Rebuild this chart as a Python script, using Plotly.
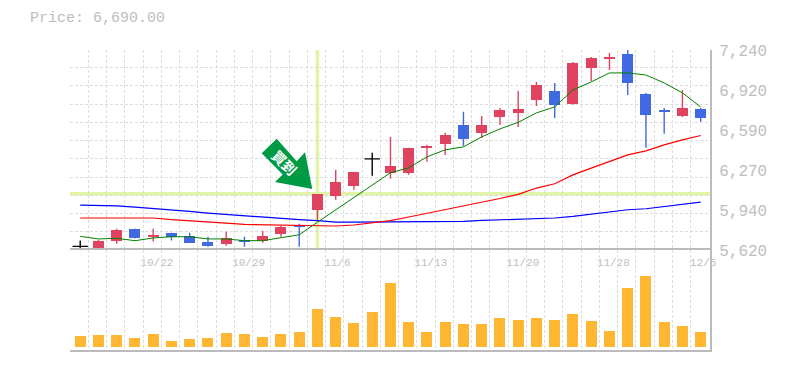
import plotly.graph_objects as go

# Daily index 0..34 is a trading session
opens  = [5651,5640,5691,5794,5729,5762,5737,5689,5673,5705,5697,5754,5826,5948,6061,6142,6361,6248,6248,6450,6483,6636,6572,6701,6734,6839,6912,6807,7098,7171,7212,6888,6758,6709,6766]
closes = [5651,5697,5786,5715,5745,5729,5681,5656,5721,5689,5737,5810,5810,6078,6175,6256,6361,6304,6450,6466,6556,6523,6636,6758,6766,6961,6799,7139,7179,7187,6977,6717,6742,6774,6690]
highs  = [5699,5705,5794,5794,5794,5762,5762,5729,5770,5729,5778,5818,5835,6078,6272,6256,6410,6539,6450,6475,6572,6742,6709,6774,6912,6985,6977,7147,7187,7220,7244,6896,6774,6920,6774]
lows   = [5618,5632,5673,5715,5691,5699,5681,5648,5656,5648,5681,5729,5648,5867,6029,6110,6223,6199,6231,6337,6393,6466,6531,6636,6620,6790,6693,6799,6993,7082,6879,6450,6564,6701,6661]
ma_short = [5732,5711,5716,5697,5719,5729,5729,5711,5711,5697,5697,5724,5745,5847,5948,6045,6146,6248,6288,6377,6434,6458,6539,6604,6657,6734,6782,6920,6985,7058,7058,7041,6977,6896,6782]
ma_mid   = [5881,5881,5881,5881,5881,5867,5856,5848,5840,5829,5826,5824,5821,5822,5816,5824,5840,5859,5889,5918,5948,5980,6010,6039,6073,6124,6159,6231,6286,6339,6393,6426,6474,6515,6550]
ma_long  = [5986,5986,5980,5970,5956,5946,5934,5921,5910,5899,5886,5873,5867,5859,5848,5848,5848,5848,5848,5848,5848,5853,5861,5865,5873,5873,5881,5894,5913,5934,5948,5956,5975,5994,6010]
volumes  = [110,120,120,90,130,60,80,90,140,130,100,130,150,380,300,240,350,640,250,150,250,230,230,290,270,290,270,330,260,160,590,710,250,210,150]

price_ticks = [7240,6920,6590,6270,5940,5620]
price_labels = ["7,240","6,920","6,590","6,270","5,940","5,620"]
date_ticks = [4.2,9.23,14.09,19.21,24.25,29.21,34.14]
date_labels = ["10/22","10/29","11/6","11/13","11/20","11/28","12/5"]
price_grid = [5620+148.2*k for k in range(12)]
date_grid = [k-0.55 for k in range(35)]
signal_day = 13
signal_price = 6077

RED, BLUE, BLACK = "#E0435F", "#4169E1", "#000000"
n = len(opens)
x = list(range(n))
W, H = 785, 370
L, R, T, B = 70, 710, 50, 350.5
SPLIT = (B-250.5)/(B-T)

fig = go.Figure()

def wicks(idx):
    xs, ys = [], []
    for i in idx:
        xs += [i, i, None]
        ys += [lows[i], highs[i], None]
    return xs, ys

groups = {
    RED: [i for i in x if closes[i] > opens[i]],
    BLUE: [i for i in x if closes[i] < opens[i]],
    BLACK: [i for i in x if closes[i] == opens[i]],
}
for color, idx in groups.items():
    xs, ys = wicks(idx)
    fig.add_trace(go.Scatter(x=xs, y=ys, mode="lines", line=dict(color=color, width=1.4),
                             showlegend=False, hoverinfo="skip", xaxis="x", yaxis="y"))
for color in (RED, BLUE):
    idx = groups[color]
    fig.add_trace(go.Bar(x=idx, y=[abs(closes[i]-opens[i]) for i in idx],
                         base=[min(opens[i], closes[i]) for i in idx],
                         marker=dict(color=color, line=dict(width=0)), width=0.6,
                         showlegend=False, xaxis="x", yaxis="y"))
idx = groups[BLACK]
fig.add_trace(go.Scatter(x=idx, y=[opens[i] for i in idx], mode="markers",
                         marker=dict(symbol="line-ew", size=11, line=dict(color=BLACK, width=1.4)),
                         showlegend=False, xaxis="x", yaxis="y"))
for vals, color, w in ((ma_long, "#0000FF", 1.2), (ma_mid, "#FF0000", 1.2), (ma_short, "#008000", 1)):
    fig.add_trace(go.Scatter(x=x, y=vals, mode="lines", line=dict(color=color, width=w),
                             showlegend=False, xaxis="x", yaxis="y"))
fig.add_trace(go.Bar(x=x, y=volumes, marker=dict(color="#FFB733", line=dict(width=0)), width=0.6,
                     showlegend=False, xaxis="x2", yaxis="y2"))

def px(p):
    return (p-L)/(R-L)
def py(p):
    return (B-p)/(B-T)

arrow_pts = [(261.7,153.5),(276.7,139),(296.7,161.5),(305,152.5),(312.3,189.3),(275,182.3),(282.7,174.7)]
path = "M " + " L ".join(f"{px(a):.4f} {py(b):.4f}" for a, b in arrow_pts) + " Z"

GRID = dict(griddash="3px,2px", gridcolor="#DDDDDD", gridwidth=1)
AX = "#BBBBBB"
TXT = "#BEBEBE"
xr = [-0.56, 34.51]
fig.update_layout(
    width=W, height=H, autosize=False,
    margin=dict(l=L, r=W-R, t=T, b=H-B, pad=0, autoexpand=False),
    paper_bgcolor="white", plot_bgcolor="white", bargap=0, showlegend=False,
    barmode="overlay",
    font=dict(family="Liberation Mono", color=TXT),
    xaxis=dict(domain=[0,1], range=xr, tickmode="array", tickvals=date_ticks, ticktext=date_labels,
               tickfont=dict(size=11, color=TXT), showgrid=False, zeroline=False, ticks="", showline=False,
               anchor="y", automargin=False, ticklabelstandoff=4,
               minor=dict(tickmode="array", tickvals=date_grid, showgrid=True, ticks="", **GRID)),
    yaxis=dict(domain=[SPLIT,1], range=[5620,7244], side="right", tickmode="array", tickvals=price_ticks,
               ticktext=price_labels, tickfont=dict(size=16, color=TXT), showgrid=False, zeroline=False,
               ticks="", showline=True, linecolor=AX, linewidth=2, anchor="x", automargin=False,
               ticklabelstandoff=4,
               minor=dict(tickmode="array", tickvals=price_grid, showgrid=True, ticks="", **GRID)),
    xaxis2=dict(domain=[0,1], range=xr, showticklabels=False, showgrid=False, zeroline=False, ticks="",
                showline=True, mirror=True, linecolor=AX, linewidth=2, anchor="y2", automargin=False,
                minor=dict(tickmode="array", tickvals=date_grid, showgrid=True, ticks="", **GRID)),
    yaxis2=dict(domain=[0,SPLIT], range=[-25,975], side="right", showticklabels=False, showgrid=False,
                zeroline=False, ticks="", showline=True, linecolor=AX, linewidth=2, anchor="x2", automargin=False),
    shapes=[
        dict(type="line", xref="x", yref="y", x0=signal_day, x1=signal_day, y0=5640, y1=7244,
             line=dict(color="#E2F5A6", width=3.5), layer="below"),
        dict(type="line", xref="paper", yref="y", x0=0, x1=1, y0=signal_price, y1=signal_price,
             line=dict(color="#E2F5A6", width=3.5), layer="below"),
        dict(type="path", xref="paper", yref="paper", path=path, fillcolor="#009A44", line=dict(width=0), layer="above"),
    ],
    annotations=[
        dict(xref="paper", yref="paper", x=px(284.5), y=py(162), text="<b>買到</b>", showarrow=False, textangle=45,
             font=dict(family="Noto Sans CJK JP", size=14, color="white")),
        dict(xref="paper", yref="paper", x=px(28), y=py(18), text="Price: 6,690.00", showarrow=False,
             xanchor="left", yanchor="middle", font=dict(family="Liberation Mono", size=15, color=TXT)),
    ],
)
fig.write_html("out.html", config=dict(displayModeBar=False),
               post_script="document.body.style.margin='0';document.documentElement.style.overflow='hidden';")
